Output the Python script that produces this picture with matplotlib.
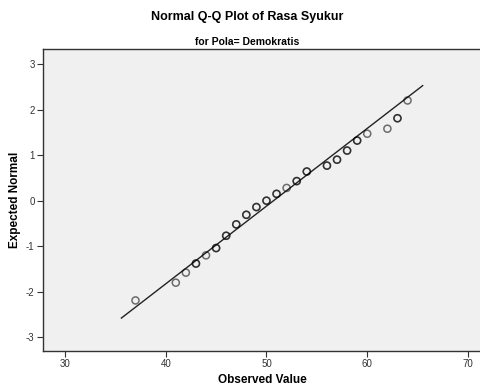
import numpy as np
from matplotlib import pyplot as plt

# observed values and their expected normal scores
observed = [37, 41, 42, 43, 44, 45, 46, 47, 48, 49, 50, 51, 52, 53, 54, 56, 57, 58, 59, 60, 62, 63, 64]
expected = [-2.19, -1.80, -1.58, -1.38, -1.20, -1.04, -0.77, -0.52, -0.31, -0.14, 0.0, 0.15, 0.28,
            0.43, 0.64, 0.77, 0.90, 1.10, 1.32, 1.47, 1.58, 1.81, 2.20]
# number of cases on each value (overlapping circles look darker)
freq = [1, 1, 1, 2, 1, 2, 2, 2, 2, 2, 2, 2, 1, 2, 2, 2, 2, 2, 2, 1, 1, 2, 1]

# fitted normal line
mean = 50.7
sd = 5.86
line_x = np.array([35.6, 65.5])

xticks = [30, 40, 50, 60, 70]
yticks = [-3, -2, -1, 0, 1, 2, 3]

plt.rcParams['font.family'] = ['Liberation Sans', 'DejaVu Sans']
plt.rcParams['axes.unicode_minus'] = False

fig = plt.figure(figsize=(4.81, 3.87), dpi=100)
ax = fig.add_axes([43 / 481, 1 - 351 / 387, 438 / 481, 302 / 387])
ax.set_facecolor('#f0f0f0')

ax.plot(line_x, (line_x - mean) / sd, color='#222222', lw=1.0)
for x, y, n in zip(observed, expected, freq):
    for _ in range(n):
        ax.scatter(x, y, s=26, facecolors='none', edgecolors='#000000', linewidths=1.1,
                   alpha=0.55, zorder=3)

ax.set_xlim(27.82, 71.29)
ax.set_ylim(-3.30, 3.33)
ax.set_xticks(xticks)
ax.set_yticks(yticks)
ax.tick_params(axis='both', direction='out', length=4, width=0.8, color='#333333',
               labelsize=7, labelcolor='#333333', pad=2)
for s in ['left', 'bottom', 'top']:
    ax.spines[s].set_color('#333333')
    ax.spines[s].set_linewidth(1.0)
ax.spines['right'].set_visible(False)

# axis titles placed in figure coordinates so they fit in the small canvas
fig.text(262 / 481, 1 - 380 / 387, 'Observed Value', ha='center', va='center',
         fontsize=8.5, fontweight='bold')
fig.text(15 / 481, 1 - 200 / 387, 'Expected Normal', ha='center', va='center',
         rotation=90, fontsize=8.5, fontweight='bold')

fig.text(247 / 481, 1 - 17 / 387, 'Normal Q-Q Plot of Rasa Syukur', ha='center', va='center',
         fontsize=9, fontweight='bold')
fig.text(247 / 481, 1 - 42 / 387, 'for Pola= Demokratis', ha='center', va='center',
         fontsize=7.5, fontweight='bold')

fig.savefig('out.png', dpi=100)
